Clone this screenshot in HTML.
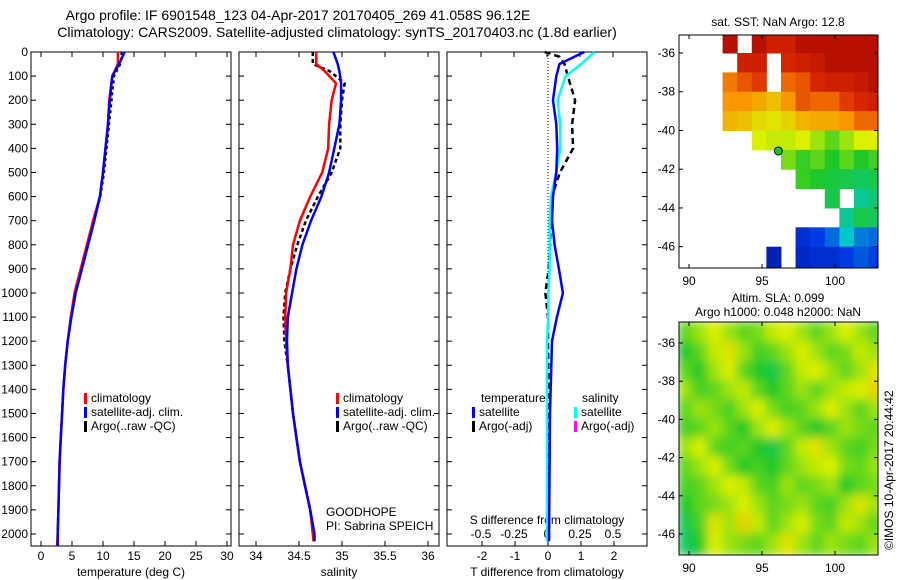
<!DOCTYPE html>
<html><head><meta charset="utf-8"><style>
body{margin:0;background:#fff;}
svg{display:block;font-family:"Liberation Sans",sans-serif;font-size:12px;}
</style></head><body>
<svg id="c" width="900" height="580" viewBox="0 0 900 580">
<text x="298" y="20" text-anchor="middle" font-size="14">Argo profile: IF 6901548_123 04-Apr-2017 20170405_269 41.058S 96.12E</text>
<text x="337" y="37" text-anchor="middle" font-size="14">Climatology: CARS2009. Satellite-adjusted climatology: synTS_20170403.nc (1.8d earlier)</text>
<g id="g"></g>
</svg>
<script>
// ---- depth profile data ----
const tDepth=[0,50,100,200,300,400,500,600,700,800,900,1000,1100,1200,1300,1400,1500,1600,1700,1800,1900,2000,2050];
const tClim=[12.4,12.4,11.5,11.0,10.8,10.4,10.0,9.5,8.4,7.4,6.4,5.4,4.8,4.3,3.9,3.6,3.4,3.2,3.0,2.9,2.8,2.7,2.6];
const tSat=[13.5,12.6,11.5,11.1,10.8,10.4,10.0,9.5,8.6,7.6,6.6,5.6,4.9,4.3,3.9,3.6,3.4,3.2,3.0,2.9,2.8,2.7,2.7];
const tArgo=[13.0,12.8,11.8,11.4,11.0,10.6,10.2,9.6,8.5,7.5,6.5,5.5,4.8,4.3,3.9,3.6,3.4,3.2,3.0,2.9,2.8,2.7,2.7];
const sDepth=[0,50,80,130,200,300,400,500,600,700,800,900,1000,1100,1200,1300,1400,1500,1600,1700,1800,1900,2000,2030];
const sClim=[34.70,34.70,34.80,34.93,34.88,34.85,34.84,34.77,34.63,34.51,34.43,34.40,34.35,34.34,34.35,34.37,34.40,34.43,34.47,34.51,34.57,34.63,34.66,34.67];
const sSat=[34.90,34.95,34.97,34.99,34.99,34.97,34.91,34.85,34.76,34.64,34.54,34.47,34.42,34.37,34.36,34.37,34.40,34.43,34.47,34.51,34.57,34.63,34.68,34.68];
const sArgo=[34.66,34.66,34.86,35.03,35.00,34.98,34.98,34.88,34.72,34.58,34.48,34.40,34.34,34.32,34.33,34.37,34.40,34.43,34.47,34.51,34.57,34.63,34.67,34.67];
const dDepth=[0,20,50,100,200,300,400,500,600,700,800,900,1000,1100,1200,1500,2000,2030];
const dTSat=[1.1,0.8,0.35,0.25,0.15,0.25,0.28,0.25,0.15,0.12,0.2,0.33,0.45,0.27,0.12,0.06,0.03,0.03];
const dTArgo=[-0.1,0.35,0.5,0.6,0.82,0.73,0.76,0.36,0.12,0.08,0.06,0.02,-0.08,0.0,0.0,0.03,0.03,0.03];
const dSSat=[0.36,0.32,0.26,0.14,0.08,0.1,0.1,0.07,0.03,0.02,0.02,0.02,0.01,0.01,0.0,0.0,0.0,0.0];
const depthTicks=[0,100,200,300,400,500,600,700,800,900,1000,1100,1200,1300,1400,1500,1600,1700,1800,1900,2000];
const tTicks=[0,5,10,15,20,25,30];
const sTicks=[34,34.5,35,35.5,36];
const dTTicks=[-2,-1,0,1,2];
const dSTicks=[-0.5,-0.25,0,0.25,0.5];
// ---- map data (normalised values, null = no data) ----
const sstLonEdges=[89.3,90.3,91.3,92.3,93.3,94.3,95.3,96.3,97.3,98.3,99.3,100.3,101.3,102.3,103.3];
const sstLatEdges=[-35.07,-36,-37,-38,-39,-40,-41,-42,-43,-44,-45,-46,-47.1];
const n=null;
const sstGrid=[
[n,n,n,.95,n,.95,.9,.9,.95,.95,.95,.95,.95,.95],
[n,n,n,n,.9,.9,n,.88,.9,.92,.95,.95,.95,.95],
[n,n,n,.78,.82,.85,n,.8,.82,.88,.9,.9,.92,.95],
[n,n,n,.75,.75,.72,.68,.75,.82,.8,.8,.85,.88,.9],
[n,n,n,.7,.68,.64,.62,.65,.7,.72,.72,.75,.8,.8],
[n,n,n,n,n,.6,.58,.58,.6,.55,.5,.55,.6,.6],
[n,n,n,n,n,n,n,.52,.47,.5,.45,.5,.45,.48],
[n,n,n,n,n,n,n,n,.47,.45,.43,.42,.4,.42],
[n,n,n,n,n,n,n,n,n,n,.42,n,.35,.38],
[n,n,n,n,n,n,n,n,n,n,n,.35,.42,.4],
[n,n,n,n,n,n,n,n,.12,.15,.2,.3,.22,.2],
[n,n,n,n,n,n,.08,n,.1,.12,.12,.15,.18,.15]];
const slaLatEdges=[-34.9,-36,-37,-38,-39,-40,-41,-42,-43,-44,-45,-46,-47.1];
const slaGrid=[
[.5,.55,.6,.55,.5,.52,.58,.6,.55,.5,.55,.6,.55,.5],
[.45,.5,.58,.62,.55,.48,.5,.55,.6,.55,.5,.52,.58,.55],
[.5,.45,.55,.6,.5,.45,.42,.5,.58,.6,.55,.5,.55,.62],
[.55,.48,.5,.55,.58,.5,.45,.5,.55,.5,.55,.58,.6,.65],
[.5,.55,.52,.48,.55,.6,.52,.48,.5,.55,.6,.55,.5,.55],
[.48,.5,.55,.5,.45,.55,.6,.55,.5,.45,.5,.55,.52,.5],
[.55,.6,.5,.48,.5,.45,.42,.5,.58,.62,.55,.5,.48,.52],
[.5,.55,.6,.52,.45,.48,.45,.5,.55,.58,.6,.52,.5,.55],
[.48,.5,.55,.6,.58,.5,.48,.55,.5,.52,.55,.45,.5,.52],
[.45,.5,.52,.55,.6,.55,.5,.52,.55,.5,.48,.55,.62,.55],
[.42,.48,.62,.55,.65,.58,.5,.55,.6,.52,.5,.58,.55,.5],
[.4,.45,.6,.55,.52,.5,.55,.62,.55,.5,.55,.52,.5,.55]];
const lonTicks=[90,95,100];
const latTicks=[-36,-38,-40,-42,-44,-46];
const argoLon=96.12, argoLat=-41.058;

const g=document.getElementById('g');
const NS='http://www.w3.org/2000/svg';
function mk(tag,at,parent){const e=document.createElementNS(NS,tag);for(const k in at)e.setAttribute(k,at[k]);(parent||g).appendChild(e);return e;}
function txt(x,y,s,anchor,name,extra){const e=mk('text',Object.assign({x:x,y:y,'text-anchor':anchor||'start'},extra||{}));e.textContent=s;


return e;}
const Y0=52,Y1=546;
const yD=d=>Y0+(d/2050)*(Y1-Y0);
function frame(x0,x1,name){const r=mk('rect',{x:x0,y:Y0,width:x1-x0,height:Y1-Y0,fill:'none',stroke:'#000','stroke-width':1});


depthTicks.forEach(d=>{mk('line',{x1:x0,x2:x0+5,y1:yD(d),y2:yD(d),stroke:'#000'});mk('line',{x1:x1,x2:x1-5,y1:yD(d),y2:yD(d),stroke:'#000'});});}
function line(xs,ds,fx,color,w,dash,name){const p=xs.map((v,i)=>fx(v).toFixed(1)+','+yD(ds[i]).toFixed(1)).join(' ');
const e=mk('polyline',{points:p,fill:'none',stroke:color,'stroke-width':w,'stroke-dasharray':dash||'none'});

}
// panel 1
const xT=v=>41+6.2*v;
frame(31,231,'temperature-panel');
depthTicks.forEach(d=>txt(28,yD(d)+4,String(d),'end','depth-tick-label'));
tTicks.forEach(v=>{mk('line',{x1:xT(v),x2:xT(v),y1:Y1,y2:Y1-5,stroke:'#000'});mk('line',{x1:xT(v),x2:xT(v),y1:Y0,y2:Y0+5,stroke:'#000'});txt(xT(v),560,String(v),'middle','temperature-tick-label');});
txt(131,576,'temperature (deg C)','middle','temperature-axis-title');
line(tArgo,tDepth,xT,'#000',2,'3,3','temperature-argo-line');
line(tClim,tDepth,xT,'#f00',2.5,null,'temperature-climatology-line');
line(tSat,tDepth,xT,'#00f',2.5,null,'temperature-satellite-line');
function legend(x,y,items,pref){items.forEach((it,i)=>{mk('rect',{x:x,y:y+i*14-9,width:3,height:11,fill:it[1]});txt(x+7,y+i*14,it[0],'start',pref+'-legend-entry');});}
legend(84,402,[['climatology','#f00'],['satellite-adj. clim.','#00f'],['Argo(..raw -QC)','#000']],'temperature');
// panel 2
const xS=v=>256+86*(v-34);
frame(239,439,'salinity-panel');
sTicks.forEach(v=>{mk('line',{x1:xS(v),x2:xS(v),y1:Y1,y2:Y1-5,stroke:'#000'});mk('line',{x1:xS(v),x2:xS(v),y1:Y0,y2:Y0+5,stroke:'#000'});txt(xS(v),560,String(v),'middle','salinity-tick-label');});
txt(339,576,'salinity','middle','salinity-axis-title');
line(sArgo,sDepth,xS,'#000',2.5,'4,3','salinity-argo-line');
line(sClim,sDepth,xS,'#f00',2.5,null,'salinity-climatology-line');
line(sSat,sDepth,xS,'#00f',2.5,null,'salinity-satellite-line');
legend(336,402,[['climatology','#f00'],['satellite-adj. clim.','#00f'],['Argo(..raw -QC)','#000']],'salinity');
txt(326,516,'GOODHOPE','start','project-label');
txt(326,530,'PI: Sabrina SPEICH','start','pi-label');
// panel 3
const xDT=v=>548+33*v, xDS=v=>547+132*v;
frame(447,647,'difference-panel');
mk('line',{x1:548,x2:548,y1:Y0,y2:Y1,stroke:'#000','stroke-dasharray':'1,2'});
dTTicks.forEach(v=>{mk('line',{x1:xDT(v),x2:xDT(v),y1:Y1,y2:Y1-5,stroke:'#000'});txt(xDT(v),560,String(v),'middle','t-diff-tick-label');});
dSTicks.forEach(v=>{mk('line',{x1:xDS(v),x2:xDS(v),y1:Y0,y2:Y0+5,stroke:'#000'});txt(xDS(v),538,String(v),'middle','s-diff-tick-label');});
txt(547,576,'T difference from climatology','middle','t-diff-axis-title');
txt(547,524,'S difference from climatology','middle','s-diff-axis-title');
line(dTArgo,dDepth,xDT,'#000',2.5,'6,4','t-diff-argo-line');
line(dSSat,dDepth,xDS,'#0ff',2.5,null,'s-diff-satellite-line');
line(dTSat,dDepth,xDT,'#00f',2.5,null,'t-diff-satellite-line');
txt(481,402,'temperature','start','diff-legend-header-temperature');
txt(582,402,'salinity','start','diff-legend-header-salinity');
legend(472,416,[['satellite','#00f'],['Argo(-adj)','#000']],'t-diff');
legend(574,416,[['satellite','#0ff'],['Argo(-adj)','#f0f']],'s-diff');
// maps
const cStops=[[0,[0,0,130]],[0.15,[0,60,230]],[0.3,[0,200,200]],[0.45,[30,200,40]],[0.6,[220,240,0]],[0.75,[250,150,0]],[0.87,[220,40,0]],[1,[160,0,0]]];
function cmap(v){for(let i=1;i<cStops.length;i++){if(v<=cStops[i][0]){const a=cStops[i-1],b=cStops[i];const t=(v-a[0])/(b[0]-a[0]);return 'rgb('+a[1].map((c,k)=>Math.round(c+(b[1][k]-c)*t)).join(',')+')';}}return 'rgb(160,0,0)';}
function map(X0,X1,YT,YB,latTop,latBot,latEdges,grid,name,blur){
const lx=v=>689+14.6*(v-90);
const ly=v=>YT+(latTop-v)/(latTop-latBot)*(YB-YT);
const cp='cp'+name;const cl=mk('clipPath',{id:cp});mk('rect',{x:X0,y:YT,width:X1-X0,height:YB-YT},cl);
const grp=mk('g',{'clip-path':'url(#'+cp+')'});


const inner=blur?mk('g',{filter:'url(#bl)'},grp):grp;
grid.forEach((row,i)=>row.forEach((v,j)=>{if(v===null)return;
const x=lx(sstLonEdges[j]),y=ly(latEdges[i]);
const r=mk('rect',{x:x-(blur?1:0),y:y-(blur?1:0),width:lx(sstLonEdges[j+1])-x+(blur?2:0.5),height:ly(latEdges[i+1])-y+(blur?2:0.5),fill:cmap(v)},inner);

}));
const fr=mk('rect',{x:X0,y:YT,width:X1-X0,height:YB-YT,fill:'none',stroke:'#000'});


latTicks.forEach(v=>{const y=ly(v);mk('line',{x1:X0,x2:X0+4,y1:y,y2:y,stroke:'#000'});mk('line',{x1:X1,x2:X1-4,y1:y,y2:y,stroke:'#000'});txt(X0-4,y+4,String(v),'end',name+'-lat-label');});
lonTicks.forEach(v=>{const x=lx(v);mk('line',{x1:x,x2:x,y1:YB,y2:YB-4,stroke:'#000'});mk('line',{x1:x,x2:x,y1:YT,y2:YT+4,stroke:'#000'});txt(x,YB+17,String(v),'middle',name+'-lon-label');});
return {lx,ly};}
const defs=mk('defs',{});const f=mk('filter',{id:'bl',x:'-10%',y:'-10%',width:'120%',height:'120%'},defs);mk('feGaussianBlur',{stdDeviation:5},f);
const m1=map(679,878,35,268,-35.07,-47.1,sstLatEdges,sstGrid,'sst-map',false);
const dot=mk('circle',{cx:m1.lx(argoLon),cy:m1.ly(argoLat),r:4,fill:'#1c1',stroke:'#000'});


txt(778,26,'sat. SST: NaN Argo: 12.8','middle','sst-map-title');
map(679,878,322,555,-34.9,-47.1,slaLatEdges,slaGrid,'sla-map',true);
txt(778,302,'Altim. SLA: 0.099','middle','sla-map-title-1');
txt(778,316,'Argo h1000: 0.048 h2000: NaN','middle','sla-map-title-2');
txt(893,550,'©IMOS 10-Apr-2017 20:44:42','start','copyright-label',{transform:'rotate(-90 893 550)'});
</script>
</body></html>
